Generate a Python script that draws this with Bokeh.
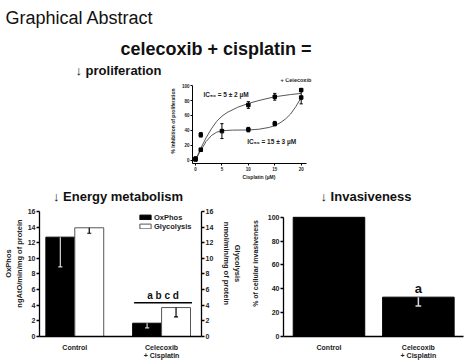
from bokeh.plotting import figure
from bokeh.layouts import column, row
from bokeh.models import (Range1d, Label, LinearAxis, FixedTicker, Legend,
                          LegendItem, Spacer)
from bokeh.embed import file_html
from bokeh.resources import INLINE
from bokeh.core.properties import value

FONT = "Liberation Sans"

# ---------------- data ----------------
# proliferation (cisplatin concentration, % inhibition)
cele_conc = [0, 1, 10, 15, 20]
cele_inhib = [2, 34, 74, 85, 94]
cele_err = [2.5, 3, 4.5, 4.5, 2]
cis_conc = [0, 1, 5, 10, 15, 20]
cis_inhib = [1, 14, 39, 41, 49, 84]
cis_err = [2, 2, 10, 3, 3, 8.5]
cele_fit_x = [0, 0.5, 1, 2, 3, 4, 5, 6, 8, 10, 12, 15, 18, 20]
cele_fit_y = [0, 8, 16, 30, 42, 52, 59, 64, 71, 76, 80, 85, 88, 89.5]
cis_fit_x = [0, 0.5, 1, 2, 3, 4, 5, 7, 10, 12, 14, 15, 16, 17, 18, 19, 20]
cis_fit_y = [0, 7, 13, 25, 33, 37.5, 39.5, 40.3, 40.5, 41.5, 44, 46.5, 50, 55, 62, 72, 84]
prolif_xticks = [0, 5, 10, 15, 20]
prolif_yticks = [0, 20, 40, 60, 80, 100]

# energy metabolism
energy_groups = ["Control", "Celecoxib\n+ Cisplatin"]
oxphos = [12.7, 1.7]
oxphos_err = [3.8, 0.6]
glyco = [13.9, 3.7]
glyco_err = [0.7, 1.2]
energy_sig = ["", "a b c d"]
energy_ticks = [0, 2, 4, 6, 8, 10, 12, 14, 16]

# invasiveness
inv_groups = ["Control", "Celecoxib\n+ Cisplatin"]
invasion = [100, 33]
invasion_err = [0, 7.5]
inv_sig = ["", "a"]
inv_ticks = [0, 20, 40, 60, 80, 100]


def base_fig(**kw):
    p = figure(output_backend="svg", toolbar_location=None, **kw)
    p.grid.visible = False
    p.outline_line_color = None
    p.background_fill_color = "white"
    p.border_fill_color = "white"
    return p


def style_axis(ax, size, tick_out=3, standoff=1, lw=1.3):
    ax.axis_line_color = "black"
    ax.axis_line_width = lw
    ax.major_tick_line_color = "black"
    ax.major_tick_line_width = lw
    ax.major_tick_out = tick_out
    ax.major_tick_in = 0
    ax.minor_tick_line_color = None
    ax.major_label_text_font = FONT
    ax.major_label_text_font_style = "bold"
    ax.major_label_text_font_size = size
    ax.major_label_text_color = "#222222"
    ax.major_label_standoff = standoff
    ax.axis_label_text_font = FONT
    ax.axis_label_text_font_style = "bold"
    ax.axis_label_text_color = "#222222"


def label(p, x, y, text, size, bold=True, baseline="alphabetic", color="#111111"):
    p.add_layout(Label(x=x, y=y, text=text, text_font=FONT, text_font_size=f"{size}px",
                       text_font_style="bold" if bold else "normal",
                       text_baseline=baseline, text_color=color))


# ---------------- header ----------------
hdr = base_fig(width=474, height=78, x_range=Range1d(0, 474), y_range=Range1d(78, 0),
               x_axis_location=None, y_axis_location=None, min_border=0)
label(hdr, 5, 22 - 4.5, "Graphical Abstract", 18, bold=False)
label(hdr, 120, 52.5 - 4.5, "celecoxib + cisplatin =", 18)
label(hdr, 75, 73.5 - 3.3, "\u2193 proliferation", 13)

# ---------------- proliferation ----------------
px0, px1 = -0.57, 24.6
py0, py1 = -4.43, 109.5
pr = base_fig(width=175, height=104, x_range=Range1d(px0, px1), y_range=Range1d(py0, py1),
              min_border_left=42, min_border_right=0, min_border_top=0, min_border_bottom=14)
for ax in pr.xaxis:
    style_axis(ax, "4.5px", tick_out=2, standoff=1, lw=1)
    ax.ticker = FixedTicker(ticks=prolif_xticks)
    ax.bounds = (px0, 21)
    ax.axis_label = "Cisplatin (\u00b5M)"
    ax.axis_label_text_font_size = "5px"
    ax.axis_label_standoff = 0
for ax in pr.yaxis:
    style_axis(ax, "4.5px", tick_out=2, standoff=1, lw=1)
    ax.ticker = FixedTicker(ticks=prolif_yticks)
    ax.bounds = (py0, 100)
    ax.axis_label = "% Inhibition of proliferation"
    ax.axis_label_text_font_size = "5px"
    ax.axis_label_standoff = 3

pr.line(cele_fit_x, cele_fit_y, line_color="#444444", line_width=0.9)
pr.line(cis_fit_x, cis_fit_y, line_color="#444444", line_width=0.9)


def err_bars(p, xs, ys, es, cap, color="black", lw=1):
    lo = [y - e for y, e in zip(ys, es)]
    hi = [y + e for y, e in zip(ys, es)]
    p.segment(x0=xs, y0=lo, x1=xs, y1=hi, line_color=color, line_width=lw)
    p.segment(x0=[x - cap for x in xs], y0=lo, x1=[x + cap for x in xs], y1=lo,
              line_color=color, line_width=lw)
    p.segment(x0=[x - cap for x in xs], y0=hi, x1=[x + cap for x in xs], y1=hi,
              line_color=color, line_width=lw)


err_bars(pr, cele_conc, cele_inhib, cele_err, 0.3)
err_bars(pr, cis_conc, cis_inhib, cis_err, 0.3)
pr.scatter(cele_conc, cele_inhib, marker="square", size=3.5, color="black")
pr.scatter(cis_conc, cis_inhib, marker="square", size=3.5, color="black")
label(pr, 16.1, 107, "+ Celecoxib", 5.5, baseline="middle", color="#222222")
label(pr, 1.5, 88, "IC\u2085\u2080 = 5 \u00b1 2 \u00b5M", 6.5, baseline="middle", color="#222222")
label(pr, 9.8, 24.7, "IC\u2085\u2080 = 15 \u00b1 3 \u00b5M", 6.5, baseline="middle", color="#222222")

# ---------------- bottom row (frames top at y=190, bottom at y=337) ----------------
ROW_TOP, ROW_H, BORDER_TOP, BORDER_BOT = 182, 179, 8, 24
FRAME_BOTTOM = ROW_TOP + ROW_H - BORDER_BOT
FRAME_H = ROW_H - BORDER_TOP - BORDER_BOT
TITLE_BASE = 199.5 - 3.3

# energy metabolism
e_scale = 7.875  # px per unit
ex0, ex1 = -0.22, 5.38
en = base_fig(width=245, height=ROW_H, x_range=Range1d(ex0, ex1),
              y_range=Range1d(0, FRAME_H / e_scale),
              min_border_left=39, min_border_right=38,
              min_border_top=BORDER_TOP, min_border_bottom=BORDER_BOT)
en.extra_y_ranges = {"gly": Range1d(0, FRAME_H / e_scale)}
en.add_layout(LinearAxis(y_range_name="gly"), "right")
centers = [1 + 3 * i for i in range(len(energy_groups))]
for ax in en.yaxis:
    style_axis(ax, "7px", tick_out=3, standoff=1)
    ax.ticker = FixedTicker(ticks=energy_ticks)
    ax.bounds = (0, energy_ticks[-1])
    ax.axis_label_text_font_size = "7.5px"
en.yaxis[0].axis_label = "OxPhos\nngAtO/min/mg of protein"
en.yaxis[0].axis_label_standoff = 1
en.yaxis[1].axis_label = "Glycolysis\nnmol/min/mg of protein"
en.yaxis[1].axis_label_standoff = 6
for ax in en.xaxis:
    style_axis(ax, "7px", tick_out=0, standoff=7)
    ax.major_tick_line_color = None
    ax.ticker = FixedTicker(ticks=centers)
    ax.major_label_overrides = {c: g for c, g in zip(centers, energy_groups)}

ox_x = [c - 0.5 for c in centers]
gl_x = [c + 0.5 for c in centers]
r_ox = en.vbar(x=ox_x, top=oxphos, width=1, fill_color="black", line_color="black")
r_gl = en.vbar(x=gl_x, top=glyco, width=1, fill_color="white", line_color="#555555", line_width=1)


def down_err(p, xs, ys, es, cap, color, lw=1.2):
    lo = [y - e for y, e in zip(ys, es)]
    p.segment(x0=xs, y0=ys, x1=xs, y1=lo, line_color=color, line_width=lw)
    p.segment(x0=[x - cap for x in xs], y0=lo, x1=[x + cap for x in xs], y1=lo,
              line_color=color, line_width=lw)


down_err(en, ox_x, oxphos, oxphos_err, 0.07, "#d8d8d8")
down_err(en, gl_x, glyco, glyco_err, 0.07, "black")

sig_i = [i for i, s in enumerate(energy_sig) if s]
sig_top = [max(oxphos[i], glyco[i]) + 0.6 for i in sig_i]
en.segment(x0=[centers[i] - 0.95 for i in sig_i], y0=sig_top,
           x1=[centers[i] + 1.05 for i in sig_i], y1=sig_top, line_color="black", line_width=1.5)
en.text(x=[centers[i] + 0.05 for i in sig_i], y=[t + 0.9 for t in sig_top],
        text=[energy_sig[i] for i in sig_i], text_font=value(FONT), text_font_style="bold",
        text_font_size="10px", text_align="center", text_baseline="middle", text_color="#111111")

legend = Legend(items=[LegendItem(label="OxPhos", renderers=[r_ox]),
                       LegendItem(label="Glycolysis", renderers=[r_gl])],
                location=(99, FRAME_BOTTOM - 231.7), padding=0, margin=0, spacing=0,
                glyph_width=14, glyph_height=6, label_standoff=2, label_height=9,
                label_text_font=FONT, label_text_font_style="bold", label_text_font_size="7.5px",
                label_text_color="#222222", border_line_color=None, background_fill_alpha=0)
en.add_layout(legend)
label(en, ex0 + (53 - 39) / 30.0, (FRAME_BOTTOM - TITLE_BASE) / e_scale,
      "\u2193 Energy metabolism", 13)

# invasiveness
i_scale = 1.2
ix0, ix1 = 0.364, 2.881
inv = base_fig(width=229, height=ROW_H, x_range=Range1d(ix0, ix1),
               y_range=Range1d(0, FRAME_H / i_scale),
               min_border_left=38, min_border_right=11,
               min_border_top=BORDER_TOP, min_border_bottom=BORDER_BOT)
icenters = [1 + 1.25 * i for i in range(len(inv_groups))]
for ax in inv.yaxis:
    style_axis(ax, "7px", tick_out=3, standoff=1)
    ax.ticker = FixedTicker(ticks=inv_ticks)
    ax.bounds = (0, inv_ticks[-1])
    ax.axis_label = "% of cellular invasiveness"
    ax.axis_label_text_font_size = "7px"
    ax.axis_label_standoff = 6
for ax in inv.xaxis:
    style_axis(ax, "7px", tick_out=0, standoff=7)
    ax.major_tick_line_color = None
    ax.ticker = FixedTicker(ticks=icenters)
    ax.major_label_overrides = {c: g for c, g in zip(icenters, inv_groups)}

inv.vbar(x=icenters, top=invasion, width=1, fill_color="black", line_color="black")
down_err(inv, icenters[1:], invasion[1:], invasion_err[1:], 0.04, "#d8d8d8", lw=1.5)
isig = [i for i, s in enumerate(inv_sig) if s]
inv.text(x=[icenters[i] for i in isig], y=[invasion[i] + 7 for i in isig],
         text=[inv_sig[i] for i in isig], text_font=value(FONT), text_font_style="bold",
         text_font_size="13px", text_align="center", text_baseline="middle", text_color="#111111")
label(inv, ix0 + (320 - 283) / 71.5, (FRAME_BOTTOM - TITLE_BASE) / i_scale,
      "\u2193 Invasiveness", 13)

layout = column(hdr,
                row(Spacer(width=150, height=104), pr, Spacer(width=149, height=104)),
                row(en, inv))

open("out.html", "w").write(file_html(layout, INLINE))
